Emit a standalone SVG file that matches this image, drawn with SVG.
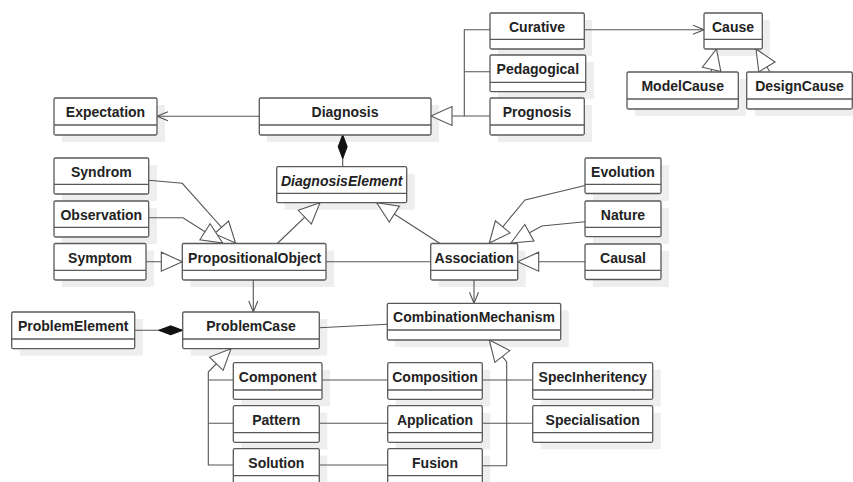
<svg xmlns="http://www.w3.org/2000/svg" width="853" height="482" viewBox="0 0 853 482">
<style>
.sh{fill:#eeeeee;stroke:none}
.bx{fill:#ffffff;stroke:#5a5a5a;stroke-width:1.3}
.dv{stroke:#5a5a5a;stroke-width:1.3}
.t{font-family:"Liberation Sans",Arial,sans-serif;font-weight:bold;font-size:14px;fill:#222;text-anchor:middle}
.it{font-style:italic}
.c{fill:none;stroke:#555;stroke-width:1.1}
.g{marker-end:url(#gen)}
.a{marker-end:url(#arr)}
.d{marker-end:url(#dia)}
</style>
<defs>
<marker id="gen" markerUnits="userSpaceOnUse" viewBox="-23 -11 25 22" markerWidth="25" markerHeight="22" refX="0" refY="0" orient="auto"><path d="M0,0 L-21,-9.5 L-21,9.5 Z" fill="#fff" stroke="#555" stroke-width="1.1"/></marker>
<marker id="arr" markerUnits="userSpaceOnUse" viewBox="-13 -6 14 12" markerWidth="14" markerHeight="12" refX="0" refY="0" orient="auto"><path d="M-11,-4.5 L0,0 L-11,4.5" fill="none" stroke="#555" stroke-width="1.1"/></marker>
<marker id="dia" markerUnits="userSpaceOnUse" viewBox="-26 -6 27 12" markerWidth="27" markerHeight="12" refX="0" refY="0" orient="auto"><path d="M0,0 L-12,-4.5 L-24,0 L-12,4.5 Z" fill="#111" stroke="#111" stroke-width="1"/></marker>
</defs>

<g id="shadows">
<rect class="sh" x="62" y="105" width="103" height="37"/>
<rect class="sh" x="267" y="105" width="172" height="37"/>
<rect class="sh" x="498" y="20" width="94" height="36"/>
<rect class="sh" x="498" y="62" width="96" height="37"/>
<rect class="sh" x="498" y="105" width="94" height="37"/>
<rect class="sh" x="712" y="20" width="58" height="36"/>
<rect class="sh" x="635" y="79" width="111" height="37"/>
<rect class="sh" x="755" y="79" width="106" height="37"/>
<rect class="sh" x="62" y="165" width="95" height="36"/>
<rect class="sh" x="62" y="208" width="95" height="36"/>
<rect class="sh" x="62" y="250.5" width="92" height="36.5"/>
<rect class="sh" x="190.3" y="250.5" width="143.7" height="36.5"/>
<rect class="sh" x="284.7" y="173.7" width="130" height="36"/>
<rect class="sh" x="438.7" y="250.5" width="87" height="36.5"/>
<rect class="sh" x="593" y="165" width="76" height="36"/>
<rect class="sh" x="593" y="208" width="76" height="36"/>
<rect class="sh" x="593" y="251" width="76" height="36"/>
<rect class="sh" x="19.7" y="319" width="123" height="36.7"/>
<rect class="sh" x="190.7" y="319" width="136.6" height="36.7"/>
<rect class="sh" x="395.3" y="310.3" width="173.4" height="36.7"/>
<rect class="sh" x="241.3" y="369.7" width="88.7" height="36.6"/>
<rect class="sh" x="241.3" y="412.7" width="86" height="36.6"/>
<rect class="sh" x="241.3" y="455.7" width="86" height="36.6"/>
<rect class="sh" x="395.7" y="369.7" width="94.6" height="36.6"/>
<rect class="sh" x="395.7" y="412.7" width="94.6" height="36.6"/>
<rect class="sh" x="395.7" y="455.7" width="94.6" height="36.6"/>
<rect class="sh" x="540.7" y="369.7" width="120" height="36.6"/>
<rect class="sh" x="540.7" y="412.7" width="120" height="36.6"/>
</g>

<g id="connectors">
<path class="c a" d="M259.3,116.3 H157"/>
<path class="c g" d="M490,29.7 H464.3 V116 H431"/>
<path class="c" d="M490,71.7 H464.3 M490,116 H464.3"/>
<path class="c a" d="M584.3,29.7 H704"/>
<path class="c g" d="M711,72 L716.5,49"/>
<path class="c g" d="M770,72 L756,49"/>
<path class="c d" d="M342.7,166.7 V134.7"/>
<path class="c g" d="M148.7,180.3 L182.3,183.3 L235.5,243"/>
<path class="c g" d="M148.7,217.7 H183 L222.7,243"/>
<path class="c g" d="M146,261.7 H182.3"/>
<path class="c g" d="M277.3,243.5 L320,202.7"/>
<path class="c g" d="M440,243.5 L376.7,202.7"/>
<path class="c g" d="M585,185.5 L525,200 L489.3,243"/>
<path class="c g" d="M585,221.7 L541.7,226 L511,243"/>
<path class="c g" d="M585,261.7 H517.7"/>
<path class="c" d="M326,261.7 H430.7"/>
<path class="c a" d="M253.3,280 V312"/>
<path class="c a" d="M474,280 V303.3"/>
<path class="c d" d="M134.7,330.3 H182.7"/>
<path class="c" d="M319.3,327.7 L387.3,324.3"/>
<path class="c g" d="M233.3,465 H208.3 V372 L231,348.7"/>
<path class="c" d="M233.3,380 H208.3 M233.3,423.3 H208.3"/>
<path class="c" d="M322,380 H387.7 M482.3,380 H532.7"/>
<path class="c" d="M319.3,423.3 H387.7 M482.3,423.3 H532.7"/>
<path class="c" d="M319.3,465 H387.7"/>
<path class="c g" d="M482.3,465.7 H506.7 V362 L489.3,340"/>
</g>

<g id="Expectation"><rect class="bx" x="54" y="98" width="103" height="37" rx="1.5"/><line class="dv" x1="54" y1="125" x2="157" y2="125"/><text class="t" x="105.5" y="117">Expectation</text></g>
<g id="Diagnosis"><rect class="bx" x="259.3" y="98" width="171.7" height="37" rx="1.5"/><line class="dv" x1="259.3" y1="125" x2="431" y2="125"/><text class="t" x="345" y="117">Diagnosis</text></g>
<g id="Curative"><rect class="bx" x="490" y="13" width="94.3" height="36" rx="1.5"/><line class="dv" x1="490" y1="39.3" x2="584.3" y2="39.3"/><text class="t" x="537" y="32">Curative</text></g>
<g id="Pedagogical"><rect class="bx" x="490" y="55" width="95.7" height="36.7" rx="1.5"/><line class="dv" x1="490" y1="82.3" x2="585.7" y2="82.3"/><text class="t" x="537.8" y="74">Pedagogical</text></g>
<g id="Prognosis"><rect class="bx" x="490" y="98" width="94.3" height="37" rx="1.5"/><line class="dv" x1="490" y1="125" x2="584.3" y2="125"/><text class="t" x="537" y="117">Prognosis</text></g>
<g id="Cause"><rect class="bx" x="704" y="13" width="58.3" height="36" rx="1.5"/><line class="dv" x1="704" y1="39.3" x2="762.3" y2="39.3"/><text class="t" x="733" y="32">Cause</text></g>
<g id="ModelCause"><rect class="bx" x="627" y="72" width="111.3" height="37" rx="1.5"/><line class="dv" x1="627" y1="99" x2="738.3" y2="99"/><text class="t" x="682.7" y="91">ModelCause</text></g>
<g id="DesignCause"><rect class="bx" x="746.7" y="72" width="105.6" height="37" rx="1.5"/><line class="dv" x1="746.7" y1="99" x2="852.3" y2="99"/><text class="t" x="799.5" y="91">DesignCause</text></g>
<g id="Syndrom"><rect class="bx" x="54" y="158" width="94.7" height="36" rx="1.5"/><line class="dv" x1="54" y1="184.3" x2="148.7" y2="184.3"/><text class="t" x="101.3" y="177">Syndrom</text></g>
<g id="Observation"><rect class="bx" x="54" y="201" width="94.7" height="36" rx="1.5"/><line class="dv" x1="54" y1="227.3" x2="148.7" y2="227.3"/><text class="t" x="101.3" y="220">Observation</text></g>
<g id="Symptom"><rect class="bx" x="54" y="243.5" width="92" height="36.5" rx="1.5"/><line class="dv" x1="54" y1="270.3" x2="146" y2="270.3"/><text class="t" x="100" y="262.5">Symptom</text></g>
<g id="PropositionalObject"><rect class="bx" x="182.3" y="243.5" width="143.7" height="36.5" rx="1.5"/><line class="dv" x1="182.3" y1="270.3" x2="326" y2="270.3"/><text class="t" x="254.6" y="262.5">PropositionalObject</text></g>
<g id="DiagnosisElement"><rect class="bx" x="276.7" y="166.7" width="130" height="36" rx="1.5"/><line class="dv" x1="276.7" y1="193.3" x2="406.7" y2="193.3"/><text class="t it" x="341.7" y="185.5">DiagnosisElement</text></g>
<g id="Association"><rect class="bx" x="430.7" y="243.5" width="87" height="36.5" rx="1.5"/><line class="dv" x1="430.7" y1="270.3" x2="517.7" y2="270.3"/><text class="t" x="474.2" y="262.5">Association</text></g>
<g id="Evolution"><rect class="bx" x="585" y="158" width="76" height="35.5" rx="1.5"/><line class="dv" x1="585" y1="184.3" x2="661" y2="184.3"/><text class="t" x="623" y="177">Evolution</text></g>
<g id="Nature"><rect class="bx" x="585" y="201" width="76" height="35.7" rx="1.5"/><line class="dv" x1="585" y1="227.3" x2="661" y2="227.3"/><text class="t" x="623" y="220">Nature</text></g>
<g id="Causal"><rect class="bx" x="585" y="244" width="76" height="35.5" rx="1.5"/><line class="dv" x1="585" y1="270.3" x2="661" y2="270.3"/><text class="t" x="623" y="262.5">Causal</text></g>
<g id="ProblemElement"><rect class="bx" x="11.7" y="312" width="123" height="36.7" rx="1.5"/><line class="dv" x1="11.7" y1="339" x2="134.7" y2="339"/><text class="t" x="73.2" y="331">ProblemElement</text></g>
<g id="ProblemCase"><rect class="bx" x="182.7" y="312" width="136.6" height="36.7" rx="1.5"/><line class="dv" x1="182.7" y1="339" x2="319.3" y2="339"/><text class="t" x="251" y="331">ProblemCase</text></g>
<g id="CombinationMechanism"><rect class="bx" x="387.3" y="303.3" width="173.4" height="36.7" rx="1.5"/><line class="dv" x1="387.3" y1="330" x2="560.7" y2="330"/><text class="t" x="474" y="322">CombinationMechanism</text></g>
<g id="Component"><rect class="bx" x="233.3" y="362.7" width="88.7" height="36.6" rx="1.5"/><line class="dv" x1="233.3" y1="390" x2="322" y2="390"/><text class="t" x="277.7" y="381.5">Component</text></g>
<g id="Pattern"><rect class="bx" x="233.3" y="405.7" width="86" height="36.6" rx="1.5"/><line class="dv" x1="233.3" y1="432.7" x2="319.3" y2="432.7"/><text class="t" x="276.3" y="424.5">Pattern</text></g>
<g id="Solution"><rect class="bx" x="233.3" y="448.7" width="86" height="36.6" rx="1.5"/><line class="dv" x1="233.3" y1="475.7" x2="319.3" y2="475.7"/><text class="t" x="276.3" y="467.5">Solution</text></g>
<g id="Composition"><rect class="bx" x="387.7" y="362.7" width="94.6" height="36.6" rx="1.5"/><line class="dv" x1="387.7" y1="390" x2="482.3" y2="390"/><text class="t" x="435" y="381.5">Composition</text></g>
<g id="Application"><rect class="bx" x="387.7" y="405.7" width="94.6" height="36.6" rx="1.5"/><line class="dv" x1="387.7" y1="432.7" x2="482.3" y2="432.7"/><text class="t" x="435" y="424.5">Application</text></g>
<g id="Fusion"><rect class="bx" x="387.7" y="448.7" width="94.6" height="36.6" rx="1.5"/><line class="dv" x1="387.7" y1="475.7" x2="482.3" y2="475.7"/><text class="t" x="435" y="467.5">Fusion</text></g>
<g id="SpecInheritency"><rect class="bx" x="532.7" y="362.7" width="120" height="36.6" rx="1.5"/><line class="dv" x1="532.7" y1="390" x2="652.7" y2="390"/><text class="t" x="592.7" y="381.5">SpecInheritency</text></g>
<g id="Specialisation"><rect class="bx" x="532.7" y="405.7" width="120" height="36.6" rx="1.5"/><line class="dv" x1="532.7" y1="432.7" x2="652.7" y2="432.7"/><text class="t" x="592.7" y="424.5">Specialisation</text></g>
</svg>
